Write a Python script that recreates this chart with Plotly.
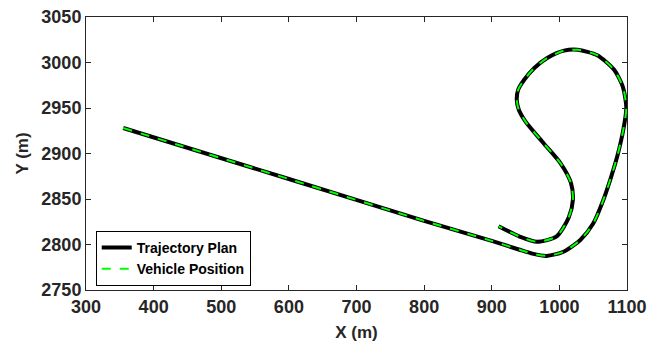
import plotly.graph_objects as go

# Trajectory
traj_x = [355, 600, 800, 900, 940, 960, 981, 1006, 1031, 1050, 1065, 1076, 1086, 1095,
          1099, 1094, 1081, 1056, 1027, 1007, 982, 963, 948, 939, 937, 940, 950, 977, 1002, 1017,
          1020, 1014, 996, 967, 942, 910]
traj_y = [2928, 2872, 2826, 2804, 2794.5, 2790, 2787.5, 2792, 2805, 2823, 2849, 2873, 2898, 2928,
          2950, 2973, 2992, 3008, 3014, 3013, 3005, 2994, 2981, 2970, 2959, 2948, 2935, 2911, 2889, 2868,
          2849, 2830, 2809, 2803, 2808.5, 2820]
veh_x = traj_x
veh_y = traj_y

x_ticks = [300, 400, 500, 600, 700, 800, 900, 1000, 1100]
y_ticks = [2750, 2800, 2850, 2900, 2950, 3000, 3050]

FONT = "Liberation Sans, Arial"
fig = go.Figure()
fig.add_trace(go.Scatter(x=traj_x, y=traj_y, mode="lines", name="Trajectory Plan",
                         line=dict(color="black", width=4, shape="spline", smoothing=0.7)))
fig.add_trace(go.Scatter(x=veh_x, y=veh_y, mode="lines", name="Vehicle Position",
                         line=dict(color="#00ff00", width=2, dash="dash", shape="spline", smoothing=0.7)))

axis_common = dict(showgrid=False, zeroline=False, showline=True, linecolor="#262626", linewidth=1,
                   mirror="ticks", ticks="inside", ticklen=5, tickcolor="#262626", automargin=False,
                   ticklabeloverflow="allow",
                   tickfont=dict(family=FONT, size=18, color="#262626", weight="bold"))

fig.update_xaxes(range=[300, 1100], tickvals=x_ticks, **axis_common,
                 title=dict(text="X (m)", font=dict(family=FONT, size=17, color="#262626", weight="bold"), standoff=10))
fig.update_yaxes(range=[2750, 3050], tickvals=y_ticks, **axis_common,
                 title=dict(text="Y (m)", font=dict(family=FONT, size=17, color="#262626", weight="bold"), standoff=8))

fig.update_layout(
    width=650, height=351,
    margin=dict(l=86, r=23, t=17, b=61),
    plot_bgcolor="white", paper_bgcolor="white",
    legend=dict(x=0.018, y=0.015, xanchor="left", yanchor="bottom",
                bordercolor="black", borderwidth=1, bgcolor="white",
                font=dict(family=FONT, size=14, color="black", weight="bold"),
                tracegroupgap=0, itemwidth=30),
    showlegend=True,
)

fig.write_html("out.html", config={"displayModeBar": False},
               post_script="document.body.style.margin='0px';document.body.style.overflow='hidden';")
